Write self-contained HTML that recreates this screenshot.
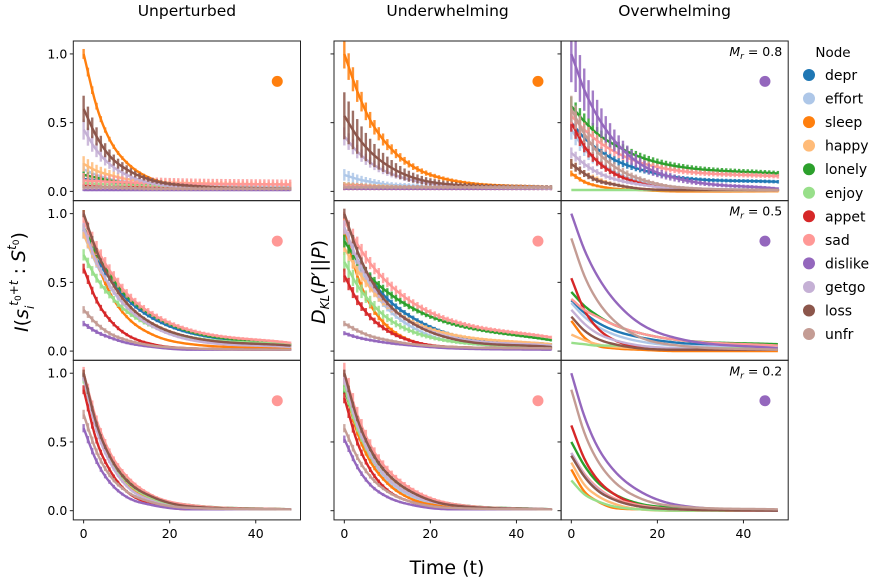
<!DOCTYPE html>
<html><head><meta charset="utf-8"><style>
html,body{margin:0;padding:0;background:#fff}
svg{display:block;font-family:"DejaVu Sans","Liberation Sans",sans-serif}
</style></head><body>
<svg id="chart" width="882" height="581" viewBox="0 0 882 581"></svg>
<script>
const nodes=["depr","effort","sleep","happy","lonely","enjoy","appet","sad","dislike","getgo","loss","unfr"];
const nodeColors=["#1f77b4","#aec7e8","#ff7f0e","#ffbb78","#2ca02c","#98df8a","#d62728","#ff9896","#9467bd","#c5b0d5","#8c564b","#c49c94"];
const keyTimes=[0,3,6,10,16,25,48];
const columnTitles=["Unperturbed","Underwhelming","Overwhelming"];
const mrLabels=["0.8","0.5","0.2"];
const yTicks=[0,0.5,1.0];
const yTickLabels=["0.0","0.5","1.0"];
const xTicks=[0,20,40];
const xTickLabels=["0","20","40"];
const highlightNode=[[2,2,8],[7,7,8],[7,7,8]];
const highlightPos=[45,0.8];

const unperturbedTop=[
[.09,.08,.07,.05,.04,.03,.02],[.16,.12,.09,.07,.05,.04,.03],[1,.62,.38,.21,.09,.04,.02],[.2,.15,.12,.09,.07,.06,.05],
[.12,.10,.08,.06,.05,.03,.02],[.06,.055,.05,.045,.04,.03,.02],[.04,.035,.03,.03,.025,.02,.02],[.08,.075,.07,.065,.06,.055,.05],
[.01,.01,.01,.01,.01,.01,.01],[.45,.3,.2,.12,.06,.03,.02],[.6,.4,.26,.16,.08,.04,.02],[.03,.03,.03,.025,.02,.02,.02]];
const underwhelmingTop=[
[.05,.045,.04,.035,.03,.03,.03],[.12,.09,.07,.05,.04,.03,.03],[1,.73,.52,.34,.18,.08,.03],[.05,.045,.04,.035,.03,.03,.03],
[.04,.04,.035,.03,.03,.03,.03],[.03,.03,.03,.03,.03,.03,.03],[.02,.02,.02,.02,.02,.02,.02],[.04,.04,.035,.03,.03,.03,.03],
[.02,.02,.02,.02,.02,.02,.02],[.4,.29,.21,.14,.08,.04,.02],[.55,.4,.29,.19,.1,.05,.03],[.03,.03,.03,.03,.03,.03,.03]];
const overwhelmingTop=[
[.5,.39,.31,.23,.16,.1,.07],[.45,.31,.22,.14,.07,.03,.01],[.13,.07,.04,.02,.01,0,0],[.2,.13,.09,.05,.02,.01,0],
[.62,.51,.42,.34,.25,.18,.13],[.01,.01,.01,.01,.01,.01,.01],[.5,.33,.22,.13,.06,.02,.01],[.55,.45,.37,.29,.21,.15,.11],
[1,.74,.55,.37,.2,.09,.02],[.28,.2,.14,.09,.05,.02,.01],[.2,.13,.08,.05,.02,.01,.01],[.6,.42,.29,.18,.09,.03,.01]];
const unperturbedMid=[
[.85,.67,.53,.38,.24,.13,.05],[.85,.63,.47,.32,.18,.09,.04],[1,.66,.43,.25,.12,.05,.02],[.85,.64,.48,.33,.2,.1,.05],
[.9,.71,.56,.4,.26,.14,.05],[.7,.53,.41,.29,.18,.1,.05],[.6,.37,.23,.12,.05,.02,.01],[.95,.75,.59,.42,.27,.15,.06],
[.2,.14,.1,.06,.03,.01,.01],[.9,.65,.48,.32,.18,.08,.03],[1,.73,.53,.35,.2,.1,.04],[.3,.2,.13,.08,.04,.02,.01]];
const underwhelmingMid=[
[.85,.67,.53,.38,.24,.12,.05],[.85,.63,.47,.31,.17,.07,.03],[.9,.55,.34,.18,.07,.03,.02],[.75,.59,.46,.33,.21,.12,.05],
[.8,.66,.54,.43,.31,.2,.08],[.65,.48,.36,.24,.14,.07,.03],[.55,.37,.25,.15,.07,.03,.02],[.95,.78,.64,.5,.35,.22,.1],
[.13,.1,.08,.06,.04,.02,.01],[.9,.67,.5,.34,.2,.1,.04],[1,.73,.53,.35,.2,.09,.03],[.2,.15,.11,.08,.05,.03,.02]];
const overwhelmingMid=[
[.37,.28,.21,.15,.1,.06,.03],[.35,.25,.18,.12,.07,.04,.03],[.22,.1,.04,.02,.01,0,0],[.12,.08,.05,.03,.02,.01,.01],
[.43,.33,.26,.19,.13,.08,.05],[.06,.05,.04,.04,.03,.02,.02],[.53,.3,.17,.08,.03,.01,.01],[.38,.3,.25,.19,.13,.08,.04],
[1,.74,.55,.37,.2,.09,.02],[.3,.2,.13,.08,.04,.02,.01],[.25,.15,.09,.05,.02,.01,.01],[.82,.55,.37,.22,.1,.04,.01]];
const unperturbedBot=[
[.98,.63,.39,.21,.09,.03,.01],[.97,.59,.36,.18,.07,.02,.01],[1,.61,.38,.2,.08,.03,.01],[.97,.62,.39,.21,.09,.03,.01],
[.98,.64,.42,.24,.1,.04,.01],[.95,.61,.38,.21,.09,.03,.01],[.88,.51,.3,.14,.05,.01,.01],[1,.66,.43,.25,.11,.04,.01],
[.6,.36,.21,.1,.04,.01,.01],[.97,.59,.36,.18,.07,.02,.01],[1,.63,.4,.22,.1,.03,.01],[.7,.43,.26,.14,.06,.02,.01]];
const underwhelmingBot=[
[.93,.62,.41,.24,.11,.04,.01],[.92,.6,.39,.22,.1,.03,.01],[.9,.57,.36,.2,.08,.03,.01],[.92,.62,.42,.25,.12,.04,.01],
[.88,.62,.43,.27,.13,.05,.01],[.9,.6,.4,.24,.11,.04,.01],[.82,.5,.3,.15,.06,.02,.01],[1,.7,.48,.3,.15,.05,.01],
[.52,.32,.19,.1,.04,.01,.01],[.95,.63,.41,.24,.11,.04,.01],[1,.67,.45,.27,.13,.04,.01],[.6,.39,.25,.14,.06,.02,.01]];
const overwhelmingBot=[
[.4,.25,.15,.08,.03,.01,0],[.42,.26,.16,.08,.03,.01,0],[.3,.14,.07,.02,.01,0,0],[.35,.19,.11,.05,.01,0,0],
[.5,.33,.21,.12,.05,.02,0],[.22,.12,.07,.03,.01,0,0],[.62,.38,.23,.12,.04,.01,0],[.42,.27,.17,.09,.04,.01,0],
[1,.69,.47,.29,.14,.04,0],[.42,.26,.16,.08,.03,.01,0],[.4,.25,.15,.08,.03,.01,0],[.88,.57,.37,.21,.09,.03,.01]];
const errTop1=[.25,.25,.03,.25,.15,.3,.25,.6,.2,.15,.15,.4];
const errTop2=[.25,.3,.1,.25,.25,.25,.25,.3,.25,.15,.3,.3];
const errTop3=[.1,.15,.12,.15,.1,0,.12,.1,.2,.12,.15,.15];
const errMid1=[.03,.03,.02,.03,.02,.05,.05,.06,.07,.03,.02,.07];
const errMid2=[.05,.05,.07,.06,.05,.1,.08,.06,.07,.05,.03,.07];
const errBot1=[.02,.02,.02,.02,.02,.02,.03,.04,.04,.02,.02,.04];
const errBot2=[.03,.03,.03,.03,.03,.03,.04,.07,.04,.03,.02,.04];
const panelData=[[unperturbedTop,underwhelmingTop,overwhelmingTop],[unperturbedMid,underwhelmingMid,overwhelmingMid],[unperturbedBot,underwhelmingBot,overwhelmingBot]];
const panelErr=[[errTop1,errTop2,errTop3],[errMid1,errMid2,null],[errBot1,errBot2,null]];

const NS="http://www.w3.org/2000/svg";
const svg=document.getElementById('chart');
function mk(tag,attrs,parent){const e=document.createElementNS(NS,tag);for(const k in attrs)e.setAttribute(k,attrs[k]);(parent||svg).appendChild(e);return e;}
const colLeft=[73.3,334,561],colW=227.2,rowTop=[41,200.7,360.3],rowH=159.6;
const xMin=-2.4,xMax=50.4,yMin=-0.067,yMax=1.094;
function xs(c,t){return colLeft[c]+(t-xMin)/(xMax-xMin)*colW;}
function ys(r,v){return rowTop[r]+rowH-(v-yMin)/(yMax-yMin)*rowH;}
function interp(vals,t){
  const n=keyTimes.length;const d=[],m=[];
  for(let i=0;i<n-1;i++)d.push((vals[i+1]-vals[i])/(keyTimes[i+1]-keyTimes[i]));
  m[0]=d[0];m[n-1]=d[n-2];
  for(let i=1;i<n-1;i++)m[i]=(d[i-1]*d[i]<=0)?0:(d[i-1]+d[i])/2;
  for(let i=0;i<n-1;i++){if(d[i]===0){m[i]=0;m[i+1]=0;continue;}const a=m[i]/d[i],b=m[i+1]/d[i],s=a*a+b*b;if(s>9){const tt=3/Math.sqrt(s);m[i]=tt*a*d[i];m[i+1]=tt*b*d[i];}}
  let k=0;while(k<n-2&&t>keyTimes[k+1])k++;
  const h=keyTimes[k+1]-keyTimes[k],u=(t-keyTimes[k])/h;
  const h00=2*u*u*u-3*u*u+1,h10=u*u*u-2*u*u+u,h01=-2*u*u*u+3*u*u,h11=u*u*u-u*u;
  return h00*vals[k]+h10*h*m[k]+h01*vals[k+1]+h11*h*m[k+1];
}
columnTitles.forEach((t,c)=>{const e=mk('text',{x:colLeft[c]+colW/2,y:16,'text-anchor':'middle','font-size':'15.5'});e.textContent=t;

});
for(let r=0;r<3;r++)for(let c=0;c<3;c++){
  const g=mk('g',{});
  
  
  const clipId='cl'+r+c;
  const cp=mk('clipPath',{id:clipId},g);mk('rect',{x:colLeft[c],y:rowTop[r],width:colW,height:rowH},cp);
  const plot=mk('g',{'clip-path':'url(#'+clipId+')'},g);
  const data=panelData[r][c],err=panelErr[r][c];
  data.forEach((vals,i)=>{
    const col=nodeColors[i];
    if(err&&err[i]>0){
      for(let t=0;t<=48;t++){const v=interp(vals,t);const e=err[i]*v+0.006;
        const b=mk('line',{x1:xs(c,t),x2:xs(c,t),y1:ys(r,v-e),y2:ys(r,v+e),stroke:col,'stroke-width':2.4,opacity:0.85},plot);
        
        }
    }
    let dd='';for(let t=0;t<=48;t+=0.5){dd+=(t===0?'M':'L')+xs(c,t).toFixed(2)+','+ys(r,interp(vals,t)).toFixed(2);}
    const p=mk('path',{d:dd,fill:'none',stroke:col,'stroke-width':2.4},plot);
    
    
  });
  const dot=mk('circle',{cx:xs(c,highlightPos[0]),cy:ys(r,highlightPos[1]),r:5.5,fill:nodeColors[highlightNode[r][c]]},g);
  
  
  const fr=mk('rect',{x:colLeft[c],y:rowTop[r],width:colW,height:rowH,fill:'none',stroke:'#222','stroke-width':1},g);
  
  
  yTicks.forEach((v,k)=>{mk('line',{x1:colLeft[c]-3.5,x2:colLeft[c],y1:ys(r,v),y2:ys(r,v),stroke:'#222','stroke-width':1},g);
    if(c===0){const tl=mk('text',{x:colLeft[c]-6,y:ys(r,v)+4.5,'text-anchor':'end','font-size':'12.5'},g);tl.textContent=yTickLabels[k];
    
    }});
  if(r===2)xTicks.forEach((v,k)=>{mk('line',{x1:xs(c,v),x2:xs(c,v),y1:rowTop[r]+rowH,y2:rowTop[r]+rowH+3.5,stroke:'#222','stroke-width':1},g);
    const tl=mk('text',{x:xs(c,v),y:rowTop[r]+rowH+18,'text-anchor':'middle','font-size':'12.5'},g);tl.textContent=xTickLabels[k];
    
    });
  if(c===2){const mt=mk('text',{x:colLeft[c]+colW-6,y:rowTop[r]+15,'text-anchor':'end','font-size':'12.5'},g);
    mt.innerHTML='<tspan font-style="italic">M</tspan><tspan font-style="italic" font-size="9" dy="3">r</tspan><tspan dy="-3"> = '+mrLabels[r]+'</tspan>';
    
    }
}
(function(){
const lg=mk('g',{});


const tt=mk('text',{x:833,y:57,'text-anchor':'middle','font-size':'13.5'},lg);tt.textContent='Node';
nodes.forEach((n,i)=>{const y=75+i*23.55;
  const it=mk('g',{},lg);
  
  
  mk('circle',{cx:809,cy:y,r:6,fill:nodeColors[i]},it);
  const t=mk('text',{x:825,y:y+5,'font-size':'14'},it);t.textContent=n;});
const yl=mk('text',{transform:'translate(28,282) rotate(-90)','text-anchor':'middle','font-size':'19'});
yl.innerHTML='<tspan font-style="italic">I</tspan>(<tspan font-style="italic">s</tspan><tspan font-style="italic" font-size="12" dy="6">i</tspan><tspan font-style="italic" font-size="12" dy="-16">t</tspan><tspan font-size="9" dy="3">0</tspan><tspan font-size="12" dy="-3">+</tspan><tspan font-style="italic" font-size="12">t</tspan><tspan dy="7"> : </tspan><tspan font-style="italic">S</tspan><tspan font-style="italic" font-size="12" dy="-9">t</tspan><tspan font-size="9" dy="3">0</tspan><tspan dy="6">)</tspan>';


const yl2=mk('text',{transform:'translate(325,282) rotate(-90)','text-anchor':'middle','font-size':'19'});
yl2.innerHTML='<tspan font-style="italic">D</tspan><tspan font-style="italic" font-size="12" dy="4">KL</tspan><tspan dy="-4">(</tspan><tspan font-style="italic">P</tspan>′||<tspan font-style="italic">P</tspan>)';


const xl=mk('text',{x:447,y:574,'text-anchor':'middle','font-size':'19'});xl.textContent='Time (t)';


})();
</script>
</body></html>
